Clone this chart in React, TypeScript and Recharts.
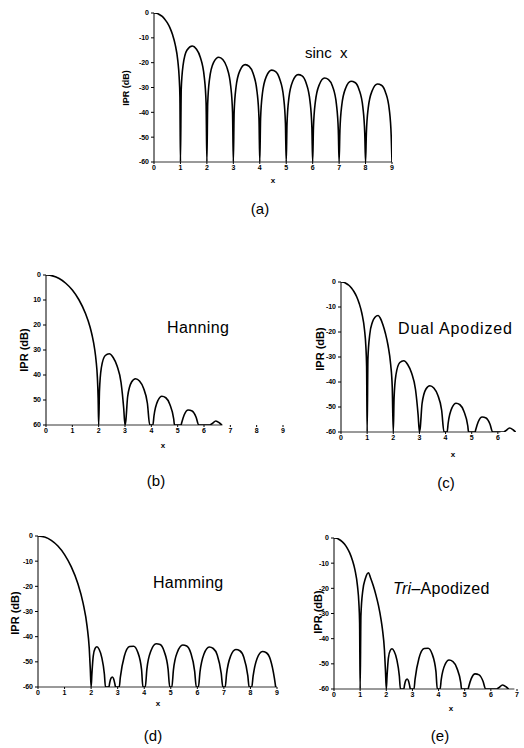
import React from 'react';
import { LineChart, Line, XAxis, YAxis, ReferenceLine } from 'recharts';

type Pt = [number, number];

// ---- values (IPR in dB, clipped at -60) ----
const sincMainLobe: Pt[] = [
  [0, 0], [0.1, -0.1], [0.2, -0.6], [0.3, -1.3], [0.4, -2.4], [0.5, -3.9], [0.6, -5.9],
  [0.7, -8.7], [0.8, -12.6], [0.9, -19.2], [0.95, -25.6], [0.98, -33.8], [1, -60],
];

const sincSidelobes: Pt[] = [
  [1.03, -30.7], [1.1, -21.0], [1.25, -14.9], [1.45, -13.3], [1.6, -14.5], [1.75, -17.8], [1.9, -25.7], [1.97, -36.4], [2, -60],
  [2.03, -36.6], [2.1, -26.6], [2.25, -20.0], [2.45, -17.8], [2.6, -18.7], [2.75, -21.7], [2.9, -29.4], [2.97, -39.9], [3, -60],
  [3.03, -40.1], [3.1, -30.0], [3.25, -23.2], [3.45, -20.8], [3.6, -21.5], [3.75, -24.4], [3.9, -32.0], [3.97, -42.4], [4, -60],
  [4.03, -42.6], [4.1, -32.4], [4.25, -25.5], [4.45, -23.0], [4.6, -23.6], [4.75, -26.5], [4.9, -33.9], [4.97, -44.4], [5, -60],
  [5.03, -44.5], [5.1, -34.3], [5.25, -27.4], [5.45, -24.8], [5.6, -25.3], [5.75, -28.1], [5.9, -35.6], [5.97, -46.0], [6, -60],
  [6.03, -46.1], [6.1, -35.9], [6.25, -28.9], [6.45, -26.2], [6.6, -26.8], [6.75, -29.5], [6.9, -36.9], [6.97, -47.3], [7, -60],
  [7.03, -47.4], [7.1, -37.2], [7.25, -30.2], [7.45, -27.5], [7.6, -28.0], [7.75, -30.7], [7.9, -38.1], [7.97, -48.5], [8, -60],
  [8.03, -48.6], [8.1, -38.3], [8.25, -31.3], [8.45, -28.6], [8.6, -29.1], [8.75, -31.8], [8.9, -39.1], [8.97, -49.5], [9, -60],
];

const hanningMainLobe: Pt[] = [
  [0, 0], [0.25, -0.35], [0.5, -1.4], [0.75, -3.3], [1, -6.0], [1.25, -9.9], [1.5, -15.4],
  [1.67, -20.7], [1.75, -24.1], [1.85, -29.8], [1.9, -34.1], [1.95, -40.8], [1.98, -49.2], [2, -60],
];

const hanningSidelobes: Pt[] = [
  [2.03, -46.5], [2.1, -37.2], [2.25, -32.2], [2.4, -31.5], [2.55, -33.0], [2.7, -36.4], [2.85, -43.0], [2.95, -53.2], [3, -60],
  [3.03, -58.4], [3.1, -48.7], [3.25, -42.8], [3.4, -41.5], [3.55, -42.4], [3.7, -45.2], [3.85, -51.3], [3.94, -60],
  [4.06, -60], [4.1, -56.4], [4.25, -50.2], [4.4, -48.5], [4.55, -49.1], [4.7, -51.7], [4.85, -57.6], [4.88, -60],
  [5.13, -60], [5.15, -59.2], [5.25, -55.9], [5.4, -54.0], [5.55, -54.4], [5.7, -56.9], [5.8, -60],
  [6.22, -60], [6.3, -59.5], [6.45, -58.4], [6.6, -59.3], [6.68, -60],
];

const dualFirstSidelobe: Pt[] = [
  [1.03, -30.7], [1.1, -21.0], [1.2, -16.1], [1.3, -14.1], [1.42, -13.4], [1.5, -14.4],
  [1.6, -17.0], [1.7, -20.6], [1.8, -25.4], [1.9, -33.0], [1.96, -42.0], [2, -60],
];

const hammingMainLobe: Pt[] = [
  [0, 0], [0.25, -0.43], [0.5, -1.75], [0.75, -4.0], [1, -7.4], [1.25, -12.2], [1.5, -18.9],
  [1.7, -26.8], [1.85, -36.0], [1.93, -44.6], [1.97, -53.0], [2, -60],
];

const hammingSidelobes: Pt[] = [
  [2.03, -54.7], [2.08, -47.7], [2.15, -44.7], [2.22, -44.0], [2.3, -45.0], [2.4, -48.2], [2.5, -54.9], [2.54, -60],
  [2.67, -60], [2.7, -58.3], [2.75, -56.5], [2.8, -56.0], [2.85, -56.8], [2.9, -59.0], [2.92, -60],
  [3.06, -60], [3.1, -56.2], [3.25, -47.8], [3.45, -43.9], [3.6, -43.8], [3.75, -46.0], [3.9, -53.1], [3.95, -60],
  [4.04, -60], [4.1, -52.9], [4.25, -45.7], [4.45, -42.8], [4.6, -43.1], [4.75, -45.8], [4.9, -53.0], [4.96, -60],
  [5.04, -60], [5.1, -53.2], [5.25, -46.1], [5.45, -43.3], [5.6, -43.7], [5.75, -46.4], [5.9, -53.8], [5.96, -60],
  [6.04, -60], [6.1, -54.0], [6.25, -46.9], [6.45, -44.1], [6.6, -44.7], [6.75, -47.3], [6.9, -54.6], [6.96, -60],
  [7.05, -60], [7.1, -54.9], [7.25, -47.8], [7.45, -45.1], [7.6, -45.6], [7.75, -48.2], [7.9, -55.5], [7.95, -60],
  [8.05, -60], [8.1, -55.7], [8.25, -48.7], [8.45, -45.9], [8.6, -46.4], [8.75, -49.1], [8.9, -56.4], [8.95, -60],
];

const triFirstSidelobe: Pt[] = [
  [1.03, -30.7], [1.1, -21.0], [1.2, -16.1], [1.32, -13.8], [1.4, -15.9], [1.5, -18.9], [1.6, -22.5],
  [1.7, -26.8], [1.8, -32.4], [1.85, -36.0], [1.93, -44.6], [1.97, -53.0], [2, -60],
];

const dbTicks = [0, -10, -20, -30, -40, -50, -60];
const xTicks9 = [0, 1, 2, 3, 4, 5, 6, 7, 8, 9];
const xTicks7 = [0, 1, 2, 3, 4, 5, 6, 7];
const xTicks6 = [0, 1, 2, 3, 4, 5, 6];

const sincCurve = [...sincMainLobe, ...sincSidelobes];
const hanningCurve = [...hanningMainLobe, ...hanningSidelobes];
const dualCurve = [...sincMainLobe, ...dualFirstSidelobe, ...hanningSidelobes];
const hammingCurve = [...hammingMainLobe, ...hammingSidelobes];
const triCurve = [
  ...sincMainLobe,
  ...triFirstSidelobe,
  ...hammingSidelobes.filter((p) => p[0] < 4),
  ...hanningSidelobes.filter((p) => p[0] > 4),
];

const FONT = '"Liberation Sans", Arial, Helvetica, sans-serif';
const tickStyle = { fontSize: 7, fill: '#000', fontWeight: 700, fontFamily: FONT };

const Y_W = 28;
const TOP = 5;
const X_H = 16;
const RIGHT = 8;

type PanelProps = {
  pts: Pt[];
  left: number;
  top: number;
  plotW: number;
  plotH: number;
  xMax: number;
  xTicks: number[];
  axisEnd: number;
  absLabels?: boolean;
};

function Panel({ pts, left, top, plotW, plotH, xMax, xTicks, axisEnd, absLabels }: PanelProps) {
  const data = pts.map(([x, y]) => ({ x, y }));
  return (
    <div style={{ position: 'absolute', left: left - Y_W, top: top - TOP }}>
      <LineChart
        width={plotW + Y_W + RIGHT}
        height={plotH + TOP + X_H}
        data={data}
        margin={{ top: TOP, right: RIGHT, bottom: 0, left: 0 }}
      >
        <XAxis
          type="number"
          dataKey="x"
          domain={[0, xMax]}
          ticks={xTicks}
          interval={0}
          axisLine={false}
          tickLine={{ stroke: '#000' }}
          tickSize={2}
          tickMargin={1}
          height={X_H}
          tick={tickStyle}
          allowDataOverflow
        />
        <YAxis
          type="number"
          domain={[-60, 0]}
          ticks={dbTicks}
          interval={0}
          width={Y_W}
          axisLine={{ stroke: '#000', strokeWidth: 1 }}
          tickLine={{ stroke: '#000' }}
          tickSize={3}
          tickMargin={2}
          tick={tickStyle}
          tickFormatter={(v: number) => (absLabels ? String(Math.abs(v)) : String(v))}
          allowDataOverflow
        />
        <ReferenceLine
          segment={[{ x: 0, y: -60 }, { x: axisEnd, y: -60 }]}
          stroke="#000"
          strokeWidth={0.8}
          ifOverflow="visible"
        />
        <Line
          type="monotone"
          dataKey="y"
          stroke="#000"
          strokeWidth={1.6}
          dot={false}
          isAnimationActive={false}
        />
      </LineChart>
    </div>
  );
}

function Texts() {
  const lbl = { fontFamily: FONT, fill: '#000' } as const;
  const ipr = (x: number, y: number, size: number) => (
    <text
      x={x}
      y={y}
      transform={`rotate(-90 ${x} ${y})`}
      textAnchor="middle"
      dominantBaseline="central"
      fontSize={size}
      fontWeight={700}
      style={lbl}
    >
      IPR (dB)
    </text>
  );
  const small = (x: number, y: number) => (
    <text x={x} y={y} textAnchor="middle" dominantBaseline="central" fontSize={8} fontWeight={700} style={lbl}>
      x
    </text>
  );
  const title = (x: number, y: number, s: React.ReactNode, ls = 0) => (
    <text x={x} y={y} dominantBaseline="central" fontSize={16} letterSpacing={ls} style={lbl}>
      {s}
    </text>
  );
  const pl = (x: number, y: number, s: string) => (
    <text x={x} y={y} textAnchor="middle" dominantBaseline="central" fontSize={15} style={lbl}>
      {s}
    </text>
  );
  return (
    <svg
      width={524}
      height={748}
      style={{ position: 'absolute', left: 0, top: 0, pointerEvents: 'none' }}
    >
      {ipr(126, 88, 9)}
      {ipr(24, 350, 11)}
      {ipr(320, 349, 11)}
      {ipr(15, 613, 11)}
      {ipr(318, 612, 11)}
      {small(273, 180)}
      {small(163, 445)}
      {small(453, 454)}
      {small(158, 703)}
      {small(451, 708)}
      <text x={305} y={52} dominantBaseline="central" fontSize={15} style={lbl} xmlSpace="preserve">
        sinc  x
      </text>
      {title(167, 327, 'Hanning', 0.4)}
      {title(398, 328, 'Dual Apodized', 0.9)}
      {title(153, 582, 'Hamming', 0.3)}
      {title(393, 588, (
        <>
          <tspan fontStyle="italic">Tri</tspan>
          <tspan>–Apodized</tspan>
        </>
      ), 0.3)}
      {pl(260, 208, '(a)')}
      {pl(156, 480, '(b)')}
      {pl(446, 482, '(c)')}
      {pl(153, 735, '(d)')}
      {pl(440, 735, '(e)')}
    </svg>
  );
}

export default function App() {
  return (
    <div
      style={{
        position: 'absolute',
        left: 0,
        top: 0,
        width: 524,
        height: 748,
        overflow: 'hidden',
        background: '#fff',
      }}
    >
      <Panel pts={sincCurve} left={154} top={13} plotW={238} plotH={149} xMax={9} xTicks={xTicks9} axisEnd={9} />
      <Panel pts={hanningCurve} left={46} top={275} plotW={237} plotH={150} xMax={9} xTicks={xTicks9} axisEnd={6.7} absLabels />
      <Panel pts={dualCurve} left={341} top={282} plotW={183} plotH={150} xMax={7} xTicks={xTicks6} axisEnd={6.1} />
      <Panel pts={hammingCurve} left={38} top={536} plotW={239} plotH={151} xMax={9} xTicks={xTicks9} axisEnd={9} />
      <Panel pts={triCurve} left={334} top={538} plotW={183} plotH={151} xMax={7} xTicks={xTicks7} axisEnd={6.9} />
      <Texts />
    </div>
  );
}
